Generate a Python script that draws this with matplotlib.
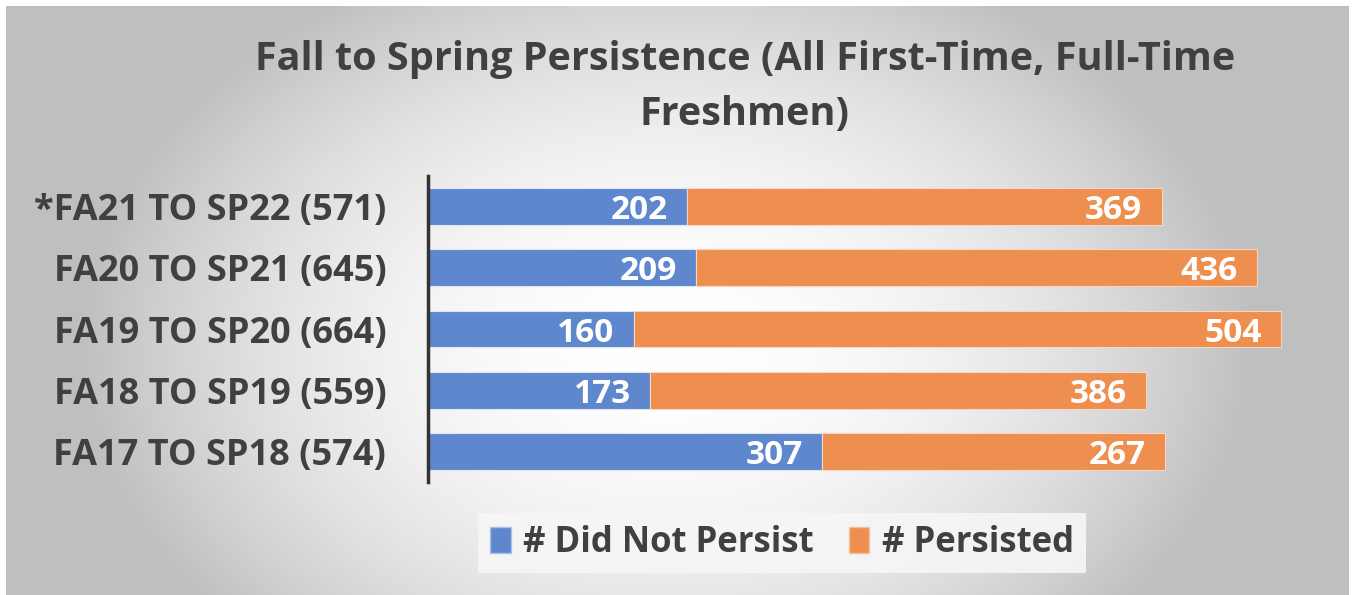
import numpy as np
import matplotlib
matplotlib.use("Agg")
import matplotlib.pyplot as plt
from matplotlib.patches import Patch

categories = ["*FA21 TO SP22 (571)", "FA20 TO SP21 (645)", "FA19 TO SP20 (664)",
              "FA18 TO SP19 (559)", "FA17 TO SP18 (574)"]
did_not_persist = [202, 209, 160, 173, 307]
persisted = [369, 436, 504, 386, 267]
series_names = ["# Did Not Persist", "# Persisted"]
title = "Fall to Spring Persistence (All First-Time, Full-Time\nFreshmen)"

BLUE = "#5F87CD"
ORANGE = "#EE8F4F"
TEXT = "#404040"
FONT = ["Open Sans", "DejaVu Sans"]

W, H = 1357, 595
fig = plt.figure(figsize=(W / 100, H / 100), dpi=100)
fig.patch.set_facecolor("white")

# background gradient panel
bg = fig.add_axes([6 / W, 0, (1349 - 6) / W, (595 - 6) / H])
bg.set_axis_off()
yy, xx = np.mgrid[0:589, 0:1343]
cx, cy = 660, 340
r2 = ((xx - cx) / 760.0) ** 2 + ((yy - cy) / 540.0) ** 2
val = np.clip(1.0 - 0.42 * r2, 0.75, 1.0)
bg.imshow(np.dstack([val, val, val]), aspect="auto", extent=[0, 1, 0, 1])
bg.set_xlim(0, 1); bg.set_ylim(0, 1)

ax = fig.add_axes([428 / W, (595 - 482) / H, 900 / W, (482 - 176) / H])
ax.set_facecolor("none")
y = np.arange(len(categories))
b1 = ax.barh(y, did_not_persist, height=0.6, color=BLUE, edgecolor="#DDE5F5", linewidth=0.8)
b2 = ax.barh(y, persisted, left=did_not_persist, height=0.6, color=ORANGE,
             edgecolor="#F8D5BE", linewidth=0.8)
ax.set_xlim(0, 900 / 1.2846)
ax.set_ylim(len(categories) - 0.5, -0.5)
ax.set_yticks(y)
ax.set_yticklabels(categories, fontsize=26, fontweight="bold", color=TEXT, family=FONT,
                   va="center_baseline")
ax.tick_params(axis="y", length=0, pad=30)
ax.set_xticks([])
for s in ["top", "right", "bottom"]:
    ax.spines[s].set_visible(False)
ax.spines["left"].set_color("#333333")
ax.spines["left"].set_linewidth(2.5)

for bars in (b1, b2):
    for rect in bars:
        wv = rect.get_width()
        ax.annotate(f"{int(wv)}", xy=(rect.get_x() + wv, rect.get_y() + rect.get_height() / 2),
                    xytext=(-14, 0), textcoords="offset points", ha="right", va="center_baseline",
                    color="white", fontsize=24, fontweight="bold", family=FONT)

fig.text(745 / W, 1 - 87 / H, title, ha="center", va="center", fontsize=28.5,
         fontweight="bold", color=TEXT, family=FONT, linespacing=1.55)

handles = [Patch(facecolor=BLUE, edgecolor="#A9BFE6"), Patch(facecolor=ORANGE, edgecolor="#F6C09C")]
leg = fig.legend(handles, series_names, loc="center", bbox_to_anchor=(782 / W, 1 - 543 / H),
                 ncol=2, frameon=True, prop={"family": FONT, "weight": "bold", "size": 25},
                 handlelength=0.6, handleheight=0.8, handletextpad=0.35, columnspacing=1.0,
                 borderpad=0.35, fancybox=False)
leg.get_frame().set_facecolor("#F6F6F6")
leg.get_frame().set_edgecolor("none")
leg.get_frame().set_alpha(0.9)
for t in leg.get_texts():
    t.set_color(TEXT)

fig.savefig("out.png", dpi=100)
